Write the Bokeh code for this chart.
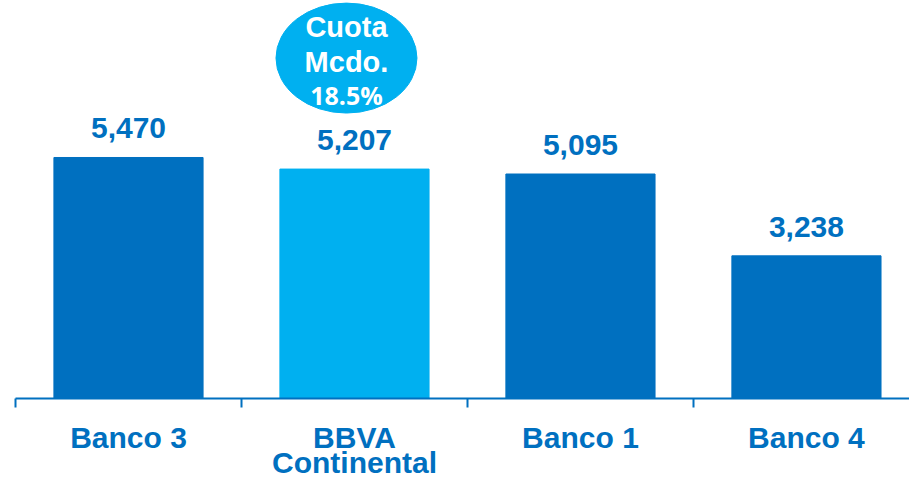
from bokeh.plotting import figure
from bokeh.models import Range1d, FixedTicker, ColumnDataSource
from bokeh.layouts import column
from bokeh.core.properties import value
from bokeh.embed import file_html
from bokeh.resources import INLINE

categories = ["Banco 3", "BBVA\nContinental", "Banco 1", "Banco 4"]
values = [5470, 5207, 5095, 3238]
value_labels = ["5,470", "5,207", "5,095", "3,238"]
colors = ["#0070C0", "#00B0F0", "#0070C0", "#0070C0"]
bubble_lines = ["Cuota", "Mcdo.", "18.5%"]
highlight_index = 1

DARK = "#0070C0"
LIGHT = "#00B0F0"

frame_h = 398
y_max = 9033
px = frame_h / y_max  # pixels per unit
cat_px = 226
top_h = 420
bottom_h = 480 - top_h

xs = list(range(len(categories)))
src = ColumnDataSource(dict(x=xs, top=values, color=colors, label=value_labels))
xr = Range1d(-0.5, 3.456)

p = figure(width=909, height=top_h, output_backend="svg", toolbar_location=None,
           x_range=xr, y_range=Range1d(0, y_max),
           y_axis_location=None, min_border_left=15, min_border_right=0,
           min_border_top=0, min_border_bottom=top_h - frame_h)
p.outline_line_color = None
p.grid.visible = False
p.background_fill_color = "white"
p.border_fill_color = "white"

p.vbar(x="x", top="top", width=0.66, color="color", source=src)

p.text(x="x", y="top", text="label", source=src, text_align="center",
       text_baseline="middle", y_offset=-29, text_color=DARK,
       text_font=value("Liberation Sans"), text_font_style="bold",
       text_font_size="30px")

# market share bubble above highlighted bar
bx = xs[highlight_index] - 8 / cat_px
by = values[highlight_index] + (169 - 58) / px
p.ellipse(x=[bx], y=[by], width=141, height=110, width_units="screen",
          height_units="screen", fill_color=LIGHT, line_color=LIGHT)
offsets = [-31, 4, 37]
sizes = ["29px", "29px", "25px"]
fonts = ["Liberation Sans", "Liberation Sans", "Open Sans"]
for t, off, s, f in zip(bubble_lines, offsets, sizes, fonts):
    p.text(x=[bx], y=[by], text=[t], text_align="center", text_baseline="middle",
           y_offset=off, text_color="white", text_font=value(f),
           text_font_style="bold", text_font_size=s)

# x axis: line + boundary ticks only
ax = p.xaxis[0]
ax.ticker = FixedTicker(ticks=[], minor_ticks=[i - 0.5 for i in xs])
ax.major_label_text_font_size = "0px"
ax.major_label_standoff = 0
ax.axis_line_color = DARK
ax.axis_line_width = 2
ax.major_tick_line_color = None
ax.minor_tick_line_color = DARK
ax.minor_tick_line_width = 2
ax.minor_tick_out = 9
ax.minor_tick_in = 0
ax.major_tick_out = 0
ax.major_tick_in = 0

# category labels strip below the axis (y measured in pixels from the axis)
lx, ly, lt = [], [], []
for i, c in zip(xs, categories):
    for k, line in enumerate(c.split("\n")):
        lx.append(i)
        ly.append(38.5 + 25.5 * k)
        lt.append(line)
cat_src = ColumnDataSource(dict(x=lx, y=ly, text=lt))

off = top_h - frame_h
p2 = figure(width=909, height=bottom_h, output_backend="svg", toolbar_location=None,
            x_range=xr, y_range=Range1d(off + bottom_h, off),
            x_axis_location=None, y_axis_location=None,
            min_border_left=15, min_border_right=0, min_border_top=0,
            min_border_bottom=0)
p2.outline_line_color = None
p2.grid.visible = False
p2.text(x="x", y="y", text="text", source=cat_src, text_align="center",
        text_baseline="middle", text_color=DARK,
        text_font=value("Liberation Sans"), text_font_style="bold",
        text_font_size="30px")

layout = column(p, p2, spacing=0)
open("out.html", "w").write(file_html(layout, INLINE))
